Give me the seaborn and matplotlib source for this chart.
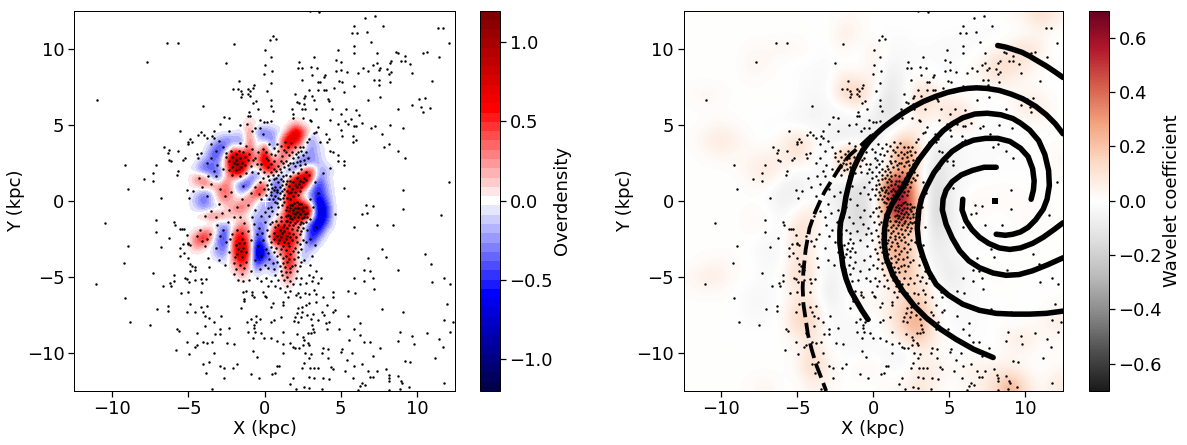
# recreate the two panel overdensity / wavelet map
import numpy as np
import pandas as pd
import matplotlib
matplotlib.use("Agg")
import matplotlib.pyplot as plt
import seaborn as sns

# values, in hundredths. rows run from Y=5.5 down to Y=-6, columns X=-5.5 to 4.5
overdensity_rows = [
    [0,0,0,0,0,0,0,0,0,0,0,0,0,0,0,0,0,0,0,0,0],
    [0,0,0,0,0,0,0,0,0,20,0,0,0,0,0,25,0,0,0,0,0],
    [0,0,0,0,0,0,0,0,-10,35,-30,-35,-20,-10,30,90,50,-5,0,0,0],
    [0,0,0,0,0,-20,-30,-30,-25,40,-10,-20,-30,20,90,80,20,-30,0,0,0],
    [0,0,0,0,-20,-50,-30,20,-20,50,-20,60,-50,30,60,25,10,-30,-10,0,0],
    [0,0,0,0,-40,-40,20,100,70,60,10,90,-10,30,30,0,-20,-30,-10,0,0],
    [0,0,0,-30,-30,-30,40,110,90,40,10,100,30,40,10,-20,-40,-30,-20,0,0],
    [0,0,-15,-40,-40,-30,20,100,90,-10,-10,50,70,10,-30,-40,30,60,-20,-20,0],
    [0,0,30,35,-10,-40,30,20,10,-30,-30,-10,-20,-30,10,70,100,60,-40,-10,0],
    [0,0,10,30,30,25,40,-10,-50,-50,40,50,-30,-40,50,110,90,-10,-60,-20,0],
    [0,0,-10,-30,-20,30,40,10,-20,20,70,30,-40,-40,80,70,-10,-30,-60,-25,0],
    [0,0,-20,-40,-15,15,30,5,20,40,-5,-20,-30,-10,70,50,30,-20,-80,-40,0],
    [0,0,-10,-25,-15,-10,5,30,40,10,-10,-20,-20,-10,60,100,110,50,-90,-60,0],
    [0,0,5,20,40,35,20,10,10,-5,-20,-20,-20,20,70,110,110,40,-80,-60,0],
    [0,0,0,-15,-5,-20,-10,-5,30,10,-35,-25,10,40,50,30,5,-50,-90,-40,0],
    [0,0,5,30,30,-20,-50,40,50,20,-40,-30,30,110,50,40,10,-60,-60,-5,0],
    [0,0,40,70,20,-40,-50,60,70,30,-60,-30,60,120,60,60,0,-70,-20,0,0],
    [0,0,30,10,-5,-30,-40,60,90,40,-90,-40,10,20,70,30,-10,-30,0,0,0],
    [0,0,0,0,0,-30,-20,50,100,40,-100,-60,-10,30,60,20,-30,0,0,0,0],
    [0,0,0,0,0,0,-10,30,70,20,-70,-20,-30,-20,80,20,-10,0,0,0,0],
    [0,0,0,0,0,0,0,10,40,10,-30,5,-25,-5,60,5,0,0,0,0,0],
    [0,0,0,0,0,0,0,0,15,0,0,0,0,0,40,0,0,0,0,0,0],
    [0,0,0,0,0,0,0,0,0,0,0,0,0,0,10,0,0,0,0,0,0],
    [0,0,0,0,0,0,0,0,0,0,0,0,0,0,0,0,0,0,0,0,0],
]

# rows Y=12 down to Y=-12, columns X=-12 to 12
wavelet_rows = [
    [0,0,0,0,0,0,0,0,0,0,2,2,0,0,0,0,0,0,0,0,0,2,5,14,5],
    [0,0,0,0,0,0,0,0,0,-1,8,3,-1,-1,-1,0,0,-1,-1,-2,-2,-1,0,3,0],
    [0,0,0,0,2,2,4,3,0,-1,4,-1,6,-2,-2,-1,-2,-2,-2,-1,2,6,14,5,-1],
    [0,0,0,0,5,3,0,-1,-1,-2,-1,-2,7,-5,-3,-1,-1,-2,0,3,14,14,8,2,-1],
    [0,0,0,0,2,0,0,-1,-2,-3,10,5,5,-10,-4,3,0,-1,1,3,9,6,2,0,-1],
    [2,4,2,0,0,0,1,-1,-3,-2,16,20,3,-13,-3,16,8,0,-1,-1,0,1,4,3,0],
    [0,1,0,0,0,0,0,-2,-5,-4,-3,4,-6,-14,-5,14,5,12,9,0,-1,1,9,7,0],
    [0,1,3,1,0,-1,-2,-3,-5,-2,-4,-5,-7,-9,-3,6,-2,10,8,0,-2,0,1,1,0],
    [1,6,10,5,1,-1,4,14,4,-6,-10,-6,-8,2,20,6,-8,-5,-1,-1,-2,-1,0,0,0],
    [0,2,4,2,3,4,6,12,3,-7,28,24,-10,5,44,12,-12,-5,-2,-1,-1,-1,0,0,3],
    [0,0,0,1,6,10,4,-2,-1,-7,20,6,-16,10,30,5,-15,-5,-3,-2,-1,-1,-1,0,2],
    [0,0,0,0,2,3,-6,-8,-1,-3,-10,-14,-12,60,60,8,-18,-6,-2,0,1,1,0,0,0],
    [0,0,0,0,0,-2,-8,-4,2,-4,-10,-16,-8,50,62,14,-20,-8,2,3,2,2,1,1,0],
    [0,0,0,0,3,2,-4,6,10,-1,-8,-20,-8,40,62,15,-22,-8,1,2,-1,1,2,2,0],
    [0,0,0,0,2,0,-3,14,6,-3,-5,-18,-5,22,20,8,-14,-7,-1,-1,-1,0,1,1,0],
    [0,0,0,0,-1,-4,-2,14,3,-4,8,-4,0,30,26,4,-10,-5,0,-1,-1,0,0,0,0],
    [0,2,3,1,0,-4,-2,12,6,-5,-3,-8,-2,18,28,4,-6,-8,-2,0,1,0,0,0,0],
    [3,8,6,0,0,-2,2,16,8,-8,0,-6,-2,8,24,10,-2,-10,-4,0,2,0,0,0,0],
    [1,2,1,0,-3,-3,-1,8,4,-10,-2,6,0,5,12,14,2,-5,-3,-1,0,0,0,-1,0],
    [0,0,0,0,-4,-2,0,14,12,-6,-2,4,2,6,18,24,4,-3,-2,-1,0,0,0,0,3],
    [0,0,0,0,-2,-1,0,18,14,-2,-3,-2,-2,5,20,30,5,-2,-2,-1,0,0,0,3,7],
    [0,0,0,0,0,0,0,6,8,-1,-3,-3,-2,2,10,22,6,-1,-1,-1,0,6,8,2,2],
    [0,0,0,0,0,0,0,2,14,2,-2,-2,-1,-5,-6,4,2,0,0,0,0,3,3,0,0],
    [0,0,0,0,0,0,0,3,18,5,-1,3,4,-2,-2,8,7,2,4,5,6,5,1,0,3],
    [0,0,0,0,2,4,0,0,6,3,0,0,0,2,3,10,4,0,3,5,12,28,10,1,8],
]

# stars above the core
stars_north = [
    (2.98,12.48),(3.6,12.37),(6.62,12.04),(7.28,12.13),(7.8,11.45),(5.9,11.45),(5.72,11.05),(6.1,11.05),
    (6.75,11.12),(11.36,11.32),(11.69,11.32),(12.1,10.39),(7.02,10.46),(5.9,10.2),(4.85,9.93),(5.9,9.74),
    (7.35,9.74),(8.6,9.8),(8.73,9.72),(10.37,9.74),(10.64,9.8),(9.19,9.52),(11.43,9.47),(9.19,9.21),
    (8.93,9.21),(8.33,9.21),(8.25,9.08),(7.35,9.06),(7.15,8.95),(4.71,9.28),(5.04,9.14),(3.27,9.47),
    (2.28,9.14),(2.2,8.75),(2.48,8.75),(3.07,8.82),(3.46,8.75),(4.71,8.55),(5.04,8.62),(5.44,8.49),
    (6.16,8.42),(6.49,8.75),(6.82,8.55),(7.5,8.62),(7.61,8.75),(8.07,8.68),(8.33,8.49),(8.2,8.36),
    (9.58,9.0),(9.71,8.42),(10.96,7.89),(7.2,7.96),(7.54,7.96),(8.26,7.83),(7.54,7.63),(5.9,7.57),
    (4.91,7.89),(5.11,7.83),(3.99,8.25),(3.92,8.1),(3.13,8.23),(2.48,7.96),(3.53,7.83),(3.66,7.83),
    (3.53,7.3),(3.92,7.3),(4.05,7.3),(4.58,7.43),(5.24,7.17),(2.94,7.3),(2.68,6.9),(2.61,6.77),
    (3.13,6.9),(3.27,6.64),(4.19,6.71),(4.25,6.58),(2.02,7.04),(2.15,6.51),(2.28,6.44),(2.61,6.38),
    (2.48,6.05),(2.68,6.05),(3.4,6.05),(1.82,6.05),(1.89,5.72),(1.89,5.46),(2.54,5.46),(3.0,5.33),
    (3.07,5.24),(3.53,4.85),(3.27,4.48),(3.4,4.54),(2.94,4.08),(4.06,4.4),(4.26,4.05),(4.45,6.05),
    (4.32,5.33),(5.04,5.72),(5.37,6.05),(6.03,5.94),(6.23,5.66),(5.7,5.39),(5.31,5.26),(5.5,5.06),
    (5.9,4.93),(6.03,4.93),(6.42,5.13),(4.85,5.06),(5.04,4.65),(5.11,4.25),(7.02,4.8),(7.22,4.93),
    (8.26,5.0),(9.11,4.8),(7.68,4.41),(5.83,4.28),(6.03,3.96),(5.83,3.83),(4.12,3.83),(3.66,3.83),
    (2.81,3.83),(8.2,3.76),(7.87,3.56),(8.73,3.3),(4.32,3.3),(4.5,3.23),(4.85,2.98),(9.19,2.84),
    (4.85,2.58),(5.24,2.58),(5.24,2.32),(4.32,2.12),(3.86,1.84),(6.82,6.64),(7.61,6.84),(8.73,6.05),
    (9.71,6.31),(10.11,6.71),(10.5,6.77),(10.3,6.18),(10.83,6.12),(10.37,5.86),(12.1,1.25),(9.06,0.72),
    (5.24,0.85),(-11.0,6.64),(-6.4,10.39),(-5.7,10.39),(-2.0,10.33),(-7.7,9.14),(-2.5,9.08),(0.04,9.93),
    (0.44,9.47),(0.04,8.95),(-0.02,8.36),(0.5,8.55),(0.44,7.76),(0.18,7.23),(0.57,10.85),(0.37,10.59),
    (0.77,10.66),(-1.67,7.89),(-2.06,7.37),(-1.73,7.37),(-1.54,7.23),(-1.47,7.04),(-1.54,6.84),(-1.08,7.37),
    (-0.96,7.23),(-1.08,7.04),(-0.74,7.43),(-0.68,7.63),(-0.96,6.9),(-0.55,6.58),(-0.74,6.44),(0.44,6.64),
    (0.44,6.25),(-0.42,6.05),(0.57,5.92),(-1.01,5.86),(-1.08,5.59),(-0.94,5.59),(-2.64,5.52),(-2.32,5.46),
    (-4.04,6.25),(-2.94,5.07),(-1.6,5.0),(-1.14,5.07),(-0.28,5.33),(-0.02,5.2),(0.18,5.2),(0.44,5.26),
    (-0.61,4.8),(-0.28,4.8),(-0.81,4.6),(-0.09,4.4),(-5.55,4.6),(-4.37,4.34),(-4.17,4.54),(-3.99,4.34),
    (-3.33,4.6),(-3.42,4.27),(-3.29,4.14),(-2.34,4.6),(-4.92,4.08),(-5.05,3.89),(-4.79,3.83),(-5.05,3.7),
    (-6.58,3.56),(-6.25,3.36),(-6.32,3.17),(-5.66,3.3),(-4.17,3.17),(-4.43,3.04),(-4.37,2.84),(-5.22,2.84),
    (-5.35,2.65),(-6.25,2.71),(-6.12,2.58),(-7.11,2.38),(-9.15,2.32),(-7.32,1.84),(-5.66,1.97),(-5.72,1.71),
    (-7.91,1.45),(-7.32,1.32),(-8.97,0.79),(-4.7,0.65),(-5.09,0.7),(-6.8,0.2),(-4.98,0.2),
]

# stars below the core
stars_south = [
    (-10.44,-1.45),(-7.13,-1.25),(-7.13,-2.04),(-8.97,-2.96),(-6.8,-3.03),(-9.23,-4.08),(-7.32,-4.74),(-11.07,-5.46),
    (-9.17,-6.38),(-7.06,-7.11),(-8.84,-7.96),(-7.52,-8.16),(-6.34,-6.91),(-6.34,-7.24),(-5.09,-7.3),(-4.89,-6.78),
    (-4.17,-6.97),(-3.77,-6.91),(-4.56,-7.3),(-4.04,-7.3),(-3.9,-7.57),(-3.64,-7.7),(-2.85,-7.57),(-3.31,-7.96),
    (-3.9,-8.22),(-5.75,-8.42),(-5.61,-8.55),(-4.43,-8.68),(-3.25,-8.75),(-2.92,-8.42),(-2.32,-8.36),(-5.09,-9.28),
    (-4.04,-9.28),(-3.77,-9.34),(-3.44,-9.28),(-4.43,-9.47),(-4.56,-9.6),(-5.81,-9.8),(-4.98,-10.07),(-3.31,-10.0),
    (-2.46,-9.34),(-2.0,-9.41),(-2.92,-8.75),(-3.64,-10.59),(-4.04,-10.72),(-2.92,-10.86),(-2.65,-10.99),(-2.06,-10.99),
    (-1.8,-10.72),(-3.84,-11.32),(-2.65,-11.64),(-3.44,-12.37),(-0.88,-11.38),(-0.35,-11.64),(-0.75,-9.87),(-0.48,-10.26),
    (6.69,-0.26),(6.43,-0.86),(6.75,-0.79),(7.15,-0.33),(9.06,-0.53),(11.56,-0.92),(8.46,-1.58),(7.35,-1.58),
    (5.9,-1.71),(4.65,-0.86),(7.74,-3.16),(7.94,-3.68),(6.82,-3.75),(10.5,-3.49),(10.9,-4.14),(8.79,-4.54),
    (6.56,-4.54),(6.95,-4.6),(5.9,-5.07),(6.56,-5.26),(7.15,-5.07),(11.75,-5.07),(10.96,-5.33),(12.2,-5.46),
    (7.2,-5.79),(5.5,-5.92),(5.96,-6.05),(11.95,-6.78),(7.74,-7.1),(9.06,-7.3),(5.5,-7.57),(11.75,-7.83),
    (12.4,-7.96),(6.29,-8.03),(5.9,-8.42),(12.2,-8.62),(8.86,-8.62),(10.64,-8.68),(6.29,-8.82),(9.71,-8.88),
    (11.43,-9.08),(6.95,-9.28),(6.56,-9.28),(8.73,-9.21),(9.78,-9.41),(11.69,-9.6),(7.61,-9.67),(5.11,-9.74),
    (5.04,-9.93),(5.57,-9.14),(5.77,-10.0),(7.15,-10.2),(5.44,-10.46),(11.16,-10.33),(9.19,-10.53),(9.52,-10.59),
    (6.43,-10.72),(5.9,-10.86),(6.82,-11.18),(7.35,-11.18),(7.94,-11.05),(5.31,-11.18),(5.83,-11.64),(6.95,-11.58),
    (7.15,-11.58),(8.14,-11.45),(8.2,-11.64),(8.2,-11.84),(8.73,-11.51),(8.93,-11.84),(9.0,-11.97),(6.43,-11.97),
    (6.29,-12.17),(6.62,-12.1),(11.75,-11.97),(9.45,-12.24),(8.2,-12.43),(8.86,-12.37),(6.16,-12.43),
    (2.21,-6.05),(2.08,-6.18),(2.34,-6.32),(2.68,-6.05),(2.94,-6.12),(3.27,-5.86),(3.4,-6.12),(3.86,-6.32),
    (4.47,-5.99),(4.52,-6.32),(2.94,-6.71),(2.74,-6.84),(2.21,-7.04),(2.48,-6.97),(3.4,-6.64),(4.12,-6.84),
    (3.79,-7.3),(3.92,-7.5),(4.52,-7.3),(4.65,-7.17),(2.15,-7.37),(2.48,-7.3),(2.02,-7.63),(2.41,-7.63),
    (2.81,-7.5),(3.2,-7.43),(3.53,-7.83),(3.07,-7.76),(2.21,-7.96),(1.95,-7.89),(4.25,-7.96),(4.06,-8.03),
    (3.13,-8.16),(3.2,-8.42),(3.07,-8.68),(2.87,-8.68),(4.12,-8.42),(4.91,-8.42),(2.15,-8.75),(2.54,-8.95),
    (2.61,-9.14),(3.27,-8.62),(2.87,-9.34),(2.54,-9.47),(2.94,-9.47),(2.28,-9.67),(2.02,-9.67),(3.86,-9.67),
    (4.19,-9.74),(2.68,-10.0),(3.07,-10.07),(3.79,-10.0),(2.94,-10.33),(2.61,-10.66),(4.19,-10.33),(3.0,-10.99),
    (2.48,-10.99),(3.27,-10.99),(3.53,-10.99),(4.39,-10.92),(4.52,-11.05),(2.94,-11.58),(3.27,-11.64),(3.86,-11.64),
    (4.25,-11.71),(2.61,-12.24),(2.92,-12.3),(3.79,-12.37),(1.69,-12.04),(2.08,-12.37),
    (-1.38,-5.99),(-1.2,-5.92),(-0.81,-5.99),(-0.81,-6.18),(-1.34,-6.45),(-1.34,-6.58),(-0.09,-5.99),(0.04,-6.25),
    (-0.68,-6.32),(0.11,-6.32),(0.57,-6.71),(0.44,-6.97),(1.23,-6.84),(1.23,-6.64),(1.56,-6.32),(1.36,-5.99),
    (1.69,-5.92),(-1.54,-7.04),(-0.55,-7.57),(-0.88,-7.76),(-1.14,-7.96),(-0.28,-7.76),(-0.55,-7.96),(-0.68,-8.16),
    (-1.07,-8.62),(-0.68,-8.36),(-0.61,-8.62),(0.44,-7.96),(0.64,-7.83),(1.1,-7.63),(1.23,-8.62),(-0.22,-8.68),
    (-0.02,-9.01),(-0.75,-9.01),(0.44,-9.01),(0.84,-9.21),(1.23,-9.41),(1.69,-9.34),(1.89,-9.6),(1.23,-10.0),
    (0.84,-10.86),(0.97,-10.86),(0.5,-11.38),(0.7,-11.32),(1.89,-11.64),
    (-5.35,-2.83),(-5.02,-2.83),(-4.89,-2.88),(-5.55,-3.09),(-5.55,-3.62),(-5.28,-3.42),(-5.02,-3.75),(-4.89,-4.14),
    (-4.76,-4.28),(-4.56,-4.34),(-4.89,-4.6),(-4.56,-4.54),(-5.22,-5.07),(-5.09,-5.13),(-4.98,-5.33),(-4.56,-5.2),
    (-4.17,-5.13),(-3.84,-5.13),(-4.1,-5.39),(-5.94,-4.87),(-5.94,-5.26),(-6.2,-5.39),(-6.67,-5.59),(-6.14,-5.59),
    (-5.48,-6.05),(-5.02,-5.99),(-4.17,-5.99),(-5.41,-1.84),(-5.28,-1.84),(-5.94,-1.38),(-5.87,-1.58),(-5.55,-1.84),
    (-5.09,-2.24),(-4.43,-2.3),(-6.25,-2.45),(-5.02,-2.76),(-4.1,-2.63),(-3.77,-2.5),(-3.66,-4.36),(-3.71,-3.75),
]

# stars over the overdensity patch
stars_core = [
    (-3.8,4.1),(-3.5,3.7),(-3.0,3.9),(-2.7,3.5),(-2.2,3.3),(-1.6,3.8),(-1.4,3.2),(-2.5,2.9),(-2.3,2.6),(-2.1,2.9),
    (-1.9,2.7),(-1.8,2.4),(-1.7,2.1),(-1.9,2.0),(-2.0,2.5),(-1.6,2.8),(-1.5,2.5),(-1.3,2.9),(-1.1,2.7),(-1.6,1.6),
    (-0.8,3.4),(-0.6,2.8),(-0.5,2.4),(-0.9,2.3),(-0.8,1.9),(-0.4,1.8),(-0.2,2.4),(0.1,2.8),(0.1,3.2),(0.2,2.2),
    (0.4,1.9),(0.6,2.6),(0.7,3.0),(0.9,3.3),(1.1,2.6),(1.4,3.2),(1.6,3.0),(1.8,3.2),(2.0,3.5),(2.2,3.2),
    (2.4,3.3),(2.5,3.0),(2.2,2.9),(1.9,2.8),(1.7,2.5),(2.3,2.6),(2.6,2.7),(2.0,2.3),(1.6,2.1),(1.3,2.2),
    (1.1,1.9),(0.9,1.7),(1.4,1.7),(1.7,1.6),(1.9,1.9),(2.2,1.8),(2.4,2.1),(2.7,1.9),(1.5,1.3),(1.2,1.3),
    (0.9,1.2),(0.6,1.4),(0.4,1.1),(0.7,0.9),(1.0,0.9),(1.3,0.8),(1.6,1.0),(1.9,1.2),(2.1,1.5),(2.3,1.3),
    (2.6,1.5),(2.9,1.7),(1.8,0.8),(2.1,0.9),(2.4,0.9),(1.6,0.5),(1.3,0.4),(1.0,0.5),(0.7,0.3),(0.4,0.6),
    (0.1,0.4),(0.3,0.1),(0.7,-0.1),(1.0,0.1),(1.3,-0.1),(1.7,0.1),(1.9,0.3),(2.2,0.4),(1.5,-0.4),(1.8,-0.3),
    (2.1,-0.1),(2.4,-0.2),(2.7,-0.4),(1.6,-0.7),(1.9,-0.6),(2.2,-0.5),(2.5,-0.7),(2.8,-0.8),(1.4,-1.0),(1.7,-1.0),
    (2.0,-0.9),(2.3,-0.9),(2.6,-1.1),(1.5,-1.3),(1.8,-1.2),(2.1,-1.3),(2.4,-1.4),(2.7,-1.4),(3.0,-1.2),(1.3,-1.6),
    (1.6,-1.6),(1.9,-1.6),(2.2,-1.7),(2.5,-1.8),(1.1,-1.3),(0.8,-0.9),(0.5,-0.7),(0.2,-0.5),(0.9,-0.4),(0.5,-1.4),
    (1.0,-1.9),(1.3,-2.0),(1.6,-2.1),(1.9,-2.2),(2.3,-2.2),(0.8,-2.3),(1.1,-2.4),(0.6,-2.1),(1.4,-2.5),(1.8,-2.6),
    (2.1,-2.7),(2.5,-2.6),(0.4,-2.7),(0.9,-2.8),(1.2,-3.0),(1.6,-3.0),(2.0,-3.1),(2.4,-3.2),(0.1,-3.2),(0.6,-3.4),
    (1.0,-3.5),(1.4,-3.6),(1.7,-3.5),(2.2,-3.7),(2.6,-3.9),(0.3,-3.8),(0.8,-4.0),(1.2,-4.1),(1.5,-4.0),(1.8,-4.3),
    (2.3,-4.3),(0.0,-4.2),(-0.2,-3.6),(0.6,-4.5),(1.1,-4.6),(1.4,-4.7),(1.7,-4.7),(2.1,-4.6),(1.3,-5.2),(0.9,-5.2),
    (0.4,-5.3),(1.7,-5.3),(2.4,-5.1),(3.0,-4.2),(3.4,-4.6),(2.9,-4.9),(3.1,-3.6),(3.3,-2.9),(3.0,-2.5),(2.8,-1.9),
    (3.3,1.2),(3.5,0.5),(3.0,0.1),(3.2,-0.4),(3.4,-1.7),(-4.3,1.5),(-4.1,0.9),(-3.8,0.3),(-3.5,1.1),(-3.2,1.6),
    (-2.9,0.8),(-2.6,0.3),(-3.0,-0.2),(-3.5,-0.7),(-3.9,-1.0),(-3.2,-1.1),(-2.8,-0.8),(-2.3,-0.6),(-1.8,-0.4),(-1.5,0.1),
    (-2.2,0.6),(-1.4,1.0),(-0.9,0.5),(-0.6,0.9),(-0.3,1.2),(-1.1,-0.3),(-0.6,-0.6),(-0.2,-1.0),(-1.6,-1.1),(-2.4,-1.4),
    (-3.1,-1.6),(-4.2,-1.9),(-3.6,-2.2),(-2.9,-2.3),(-3.9,-3.0),(-3.2,-3.1),(-2.5,-2.7),(-2.1,-2.2),(-1.8,-1.9),(-1.5,-2.5),
    (-1.9,-2.9),(-1.4,-3.1),(-1.1,-2.0),(-2.3,-3.4),(-1.8,-3.5),(-1.5,-3.7),(-1.2,-3.4),(-2.0,-4.1),(-1.6,-4.2),(-1.2,-4.0),
    (-0.7,-1.5),(-0.9,-2.6),(-0.5,-2.2),(-0.4,-3.0),(-0.6,-3.9),(-0.3,-4.5),(-0.9,-4.6),(-1.5,-4.8),(-2.6,-4.2),(-3.0,-3.9),
    (-0.2,0.1),(0.6,0.7),(0.9,0.2),(1.2,1.6),(-1.2,1.8),(-0.1,1.5),(0.2,1.6),(0.6,2.1),(0.9,2.3),(1.4,2.6),
]

# second pass over the crowded part, right of centre
stars_dense = [
    (1.15,2.95),(1.3,3.35),(1.55,3.55),(1.75,3.8),(2.05,3.05),(2.3,3.5),(2.55,3.55),(2.75,3.2),(2.85,2.8),(2.65,2.4),
    (2.35,2.35),(2.15,2.55),(1.85,2.45),(1.55,2.35),(1.2,2.45),(1.0,2.1),(0.75,1.95),(0.55,1.7),(0.3,1.35),(0.15,1.05),
    (0.5,0.85),(0.85,0.7),(1.15,1.05),(1.4,1.1),(1.7,1.3),(2.0,1.05),(2.25,1.1),(2.5,1.2),(2.75,1.35),(1.05,1.45),
    (0.75,1.5),(0.45,0.35),(0.8,0.55),(1.15,0.65),(1.45,0.65),(1.75,0.55),(2.0,0.55),(2.3,0.65),(1.2,0.2),(1.5,0.15),
    (0.55,0.1),(0.85,-0.15),(1.15,-0.3),(1.4,-0.6),(1.65,-0.25),(1.95,-0.15),(2.25,-0.2),(2.55,-0.4),(2.0,-0.45),(1.7,-0.5),
    (1.55,-0.95),(1.85,-0.8),(2.15,-0.75),(2.4,-0.55),(2.65,-0.85),(1.65,-1.15),(1.95,-1.05),(2.2,-1.1),(2.45,-1.15),(2.8,-1.1),
    (1.4,-1.35),(1.7,-1.4),(2.0,-1.45),(2.3,-1.5),(2.55,-1.45),(1.2,-1.75),(1.5,-1.8),(1.8,-1.85),(2.1,-1.95),(2.4,-2.0),
    (0.9,-1.6),(0.7,-1.75),(1.15,-2.1),(1.45,-2.3),(1.7,-2.35),(2.05,-2.4),(0.95,-2.55),(0.6,-2.5),(1.25,-2.7),(1.55,-2.8),
    (2.3,-2.85),(2.75,-2.7),(0.75,-3.1),(1.05,-3.2),(1.4,-3.25),(1.85,-3.3),(2.2,-3.4),(0.45,-3.05),(0.85,-3.65),(1.2,-3.75),
    (1.6,-3.8),(1.95,-3.85),(2.4,-4.0),(0.55,-4.1),(1.0,-4.3),(1.35,-4.35),(1.65,-4.4),(2.0,-4.25),(0.25,-4.4),(1.15,-4.85),
    (1.5,-5.0),(0.7,-4.9),(2.05,-5.1),(-0.15,-2.1),(0.15,-1.9),(0.3,-2.3),(0.05,-1.4),(0.3,-1.0),(0.0,-0.75),(0.4,-0.4),
    (-0.35,0.45),(-0.05,0.75),(0.2,0.75),(-0.05,1.9),(-0.3,2.1),(0.4,2.4),(0.25,2.65),(0.45,3.1),(-0.1,3.4),(0.3,3.7),
    (0.6,3.45),(0.85,3.75),(1.1,3.6),(1.35,3.85),(-0.45,3.2),(-0.75,2.65),(-1.0,3.1),(-1.25,2.35),(-2.15,2.2),(-2.3,2.05),
    (-1.55,2.2),(-2.1,1.7),(-1.85,3.05),(-1.65,3.3),(-1.2,3.6),(-2.55,3.15),(-3.2,3.25),(-3.5,2.8),(-3.75,2.45),(-3.1,2.35),
    (-2.7,2.1),(-3.3,1.95),(-3.7,1.65),(-1.5,-2.15),(-1.65,-2.8),(-1.35,-2.75),(-1.75,-3.15),(-1.55,-3.3),(-1.95,-3.7),(-1.35,-4.45),
    (-2.25,-2.5),(-1.85,-4.5),(-2.0,-4.8),(-1.75,-5.2),(-1.4,-5.3),(-1.0,-5.2),(-0.5,-5.05),(-0.2,-5.3),(0.1,-5.1),(0.25,-5.6),
    (0.7,-5.6),(1.0,-5.7),(1.5,-5.6),(1.9,-5.5),(2.3,-5.5),(2.7,-5.4),(3.1,-5.3),(3.5,-5.4),(3.7,-5.1),(3.2,-5.0),
    (1.05,-1.05),(0.75,-1.3),(0.35,-1.55),(-0.35,-1.8),(-0.1,-2.6),(0.25,-3.45),(-0.85,-1.1),(-1.35,-1.45),(-2.0,-1.1),(-2.7,-1.95),
]

# spiral arms, kpc
arm_outer_x = [8.2,8.7,9.2,9.8,10.3,10.8,11.4,12.0,12.5]
arm_outer_y = [10.2,10.1,9.95,9.75,9.5,9.2,8.85,8.45,8.1]
arm_a_x = [12.5,12.0,11.4,10.7,9.85,9.1,8.3,7.5,6.8,6.2,5.7,4.9,4.1,3.3,2.6,1.9,1.3,0.7,0.2,-0.3,-0.7,-1.05,-1.35,-1.6,-1.8,
           -1.95,-2.15,-2.2,-2.2,-2.1,-2.0,-1.8,-1.5,-1.1,-0.75,-0.35]
arm_a_y = [4.4,5.05,5.65,6.2,6.7,7.0,7.25,7.38,7.42,7.38,7.3,7.12,6.85,6.52,6.15,5.72,5.3,4.85,4.4,3.85,3.3,2.65,2.0,1.1,0.25,
           -0.7,-1.4,-2.0,-2.8,-3.5,-4.3,-5.1,-5.9,-6.6,-7.2,-7.8]
arm_b_x = [8.1,8.7,9.2,9.7,10.2,10.7,11.2,11.45,11.6,11.55,11.3,10.9,10.3,9.7,9.2,8.4,7.5,6.7,5.9,5.2,4.6,3.8,3.0,2.4,1.95,
           1.55,1.2,0.9,0.75,0.72,0.85,1.3,1.95,2.7,3.5,4.45,5.45,6.6,7.9]
arm_b_y = [-2.2,-2.27,-2.2,-2.05,-1.75,-1.25,-0.55,0.1,1.0,2.0,3.05,3.95,4.65,5.1,5.4,5.65,5.75,5.7,5.45,5.05,4.6,3.75,2.7,1.7,0.9,
           0.3,-0.3,-1.0,-1.8,-2.8,-3.75,-4.9,-5.95,-6.9,-7.7,-8.45,-9.1,-9.75,-10.3]
arm_c_x = [10.4,10.55,10.6,10.5,10.2,9.7,9.0,8.2,7.4,6.6,5.9,5.2,4.6,4.0,3.5,3.2,3.0,2.9,3.0,3.3,3.65,4.15,4.95,5.9,7.0,
           8.1,9.2,10.3,11.4,12.5]
arm_c_y = [0.1,0.7,1.3,2.1,2.9,3.45,3.9,4.1,4.1,3.98,3.7,3.25,2.65,1.85,0.9,0.2,-0.6,-1.8,-2.8,-3.75,-4.65,-5.5,-6.2,-6.8,-7.2,
           -7.4,-7.45,-7.45,-7.4,-7.25]
arm_d_x = [8.1,7.3,6.55,5.8,5.2,4.8,4.6,4.55,4.8,5.2,5.7,6.3,7.0,7.9,8.75,9.6,10.5,11.5,12.5]
arm_d_y = [2.2,2.2,2.0,1.7,1.25,0.7,0.1,-0.6,-1.55,-2.45,-3.3,-3.95,-4.4,-4.75,-4.9,-4.85,-4.6,-4.2,-3.75]
arm_e_x = [5.9,5.85,6.1,6.5,7.0,7.6,8.3,9.0,9.7,10.5,11.2,11.9,12.5]
arm_e_y = [0.1,-0.6,-1.3,-1.9,-2.4,-2.8,-3.1,-3.2,-3.1,-2.8,-2.4,-1.9,-1.45]
arm_dash_x = [-0.1,-0.8,-1.55,-2.2,-2.7,-3.2,-3.4,-3.85,-4.2,-4.45,-4.6,-4.65,-4.6,-4.45,-4.3,-4.05,-3.75,-3.4,-3.1]
arm_dash_y = [4.3,3.65,3.0,2.2,1.4,0.6,0.2,-0.8,-1.8,-3.2,-4.6,-5.7,-6.8,-7.8,-8.8,-9.8,-10.8,-11.7,-12.5]

sun_x = [8.0]
sun_y = [0.0]

xy_ticks = [-10, -5, 0, 5, 10]
over_ticks = [-1.0, -0.5, 0.0, 0.5, 1.0]
wave_ticks = [-0.6, -0.4, -0.2, 0.0, 0.2, 0.4, 0.6]

stars = pd.DataFrame(stars_north + stars_south + stars_core + stars_dense, columns=["x", "y"])
over = np.array(overdensity_rows) / 100
wave = np.array(wavelet_rows) / 100

W, H = 1187, 445
sns.set_theme(style="ticks", rc={"font.size": 18, "axes.labelsize": 18, "xtick.labelsize": 18,
                                 "ytick.labelsize": 18, "axes.grid": False, "text.color": "black",
                                 "axes.labelcolor": "black", "xtick.color": "black", "ytick.color": "black",
                                 "axes.edgecolor": "black", "axes.linewidth": 1.0})
plt.rcParams["font.family"] = ["DejaVu Sans"]
fig = plt.figure(figsize=(W / 72, H / 72), dpi=72)


def box(x0, x1, y0=10.5, y1=391):
    return [x0 / W, 1 - y1 / H, (x1 - x0) / W, (y1 - y0) / H]


ax1 = fig.add_axes(box(74, 455))
cax1 = fig.add_axes(box(480, 500))
ax2 = fig.add_axes(box(683.5, 1063))
cax2 = fig.add_axes(box(1089, 1109))

im1 = ax1.imshow(over, extent=[-5.75, 4.75, -6.25, 5.75], cmap=plt.get_cmap("seismic", 41),
                 vmin=-1.2, vmax=1.2, interpolation="bicubic", zorder=0)
im2 = ax2.imshow(wave, extent=[-12.5, 12.5, -12.5, 12.5], cmap="RdGy_r",
                 vmin=-0.7, vmax=0.7, interpolation="bicubic", zorder=0)

for ax in (ax1, ax2):
    sns.scatterplot(data=stars, x="x", y="y", s=6, color="black", linewidth=0, ax=ax, zorder=3)

ax1.plot([0], [0], marker="+", color="white", ms=9, mew=1, zorder=4)

# arms only go on the right panel
for arm_x, arm_y in [(arm_outer_x, arm_outer_y), (arm_a_x, arm_a_y), (arm_b_x, arm_b_y),
                     (arm_c_x, arm_c_y), (arm_d_x, arm_d_y), (arm_e_x, arm_e_y)]:
    sns.lineplot(x=arm_x, y=arm_y, sort=False, estimator=None, color="black", linewidth=5.5, ax=ax2, zorder=4)
sns.lineplot(x=arm_dash_x, y=arm_dash_y, sort=False, estimator=None, color="black", linewidth=3.8,
             linestyle=(0, (4, 1.5)), ax=ax2, zorder=4)
sns.scatterplot(x=sun_x, y=sun_y, marker="s", s=34, color="black", linewidth=0, ax=ax2, zorder=4)

for ax in (ax1, ax2):
    ax.set_xlim(-12.5, 12.5)
    ax.set_ylim(-12.5, 12.5)
    ax.set_aspect("auto")
    ax.set_xticks(xy_ticks)
    ax.set_yticks(xy_ticks)
    ax.set_xlabel("X (kpc)", labelpad=2)
    ax.set_ylabel("Y (kpc)", labelpad=2)

cb1 = fig.colorbar(im1, cax=cax1, ticks=over_ticks)
cb1.set_label("Overdensity", labelpad=0)
cb2 = fig.colorbar(im2, cax=cax2, ticks=wave_ticks)
cb2.set_label("Wavelet coefficient", labelpad=1)

fig.savefig("out.png", dpi=72)
